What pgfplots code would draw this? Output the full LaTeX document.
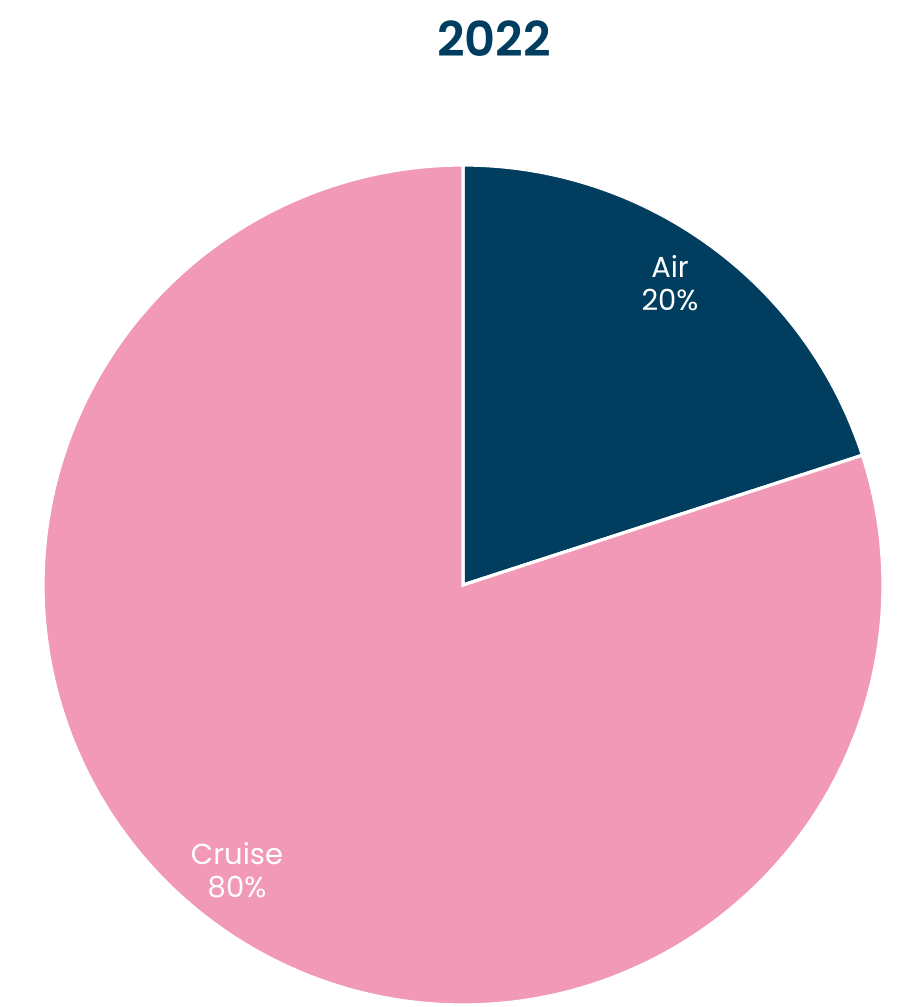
\documentclass[border=0pt]{standalone}
\usepackage{pgfplots}
\pgfplotsset{compat=1.18}
\usepackage{fontspec}
\setmainfont{Poppins}
\newfontfamily\titlefont{Poppins SemiBold}
\definecolor{navy}{HTML}{003D5E}
\definecolor{pinkc}{HTML}{F199B7}
\begin{document}
\begin{tikzpicture}
\begin{axis}[
  width=454pt, height=503.5pt, scale only axis,
  xmin=0, xmax=908, ymin=0, ymax=1007,
  hide axis, clip=false,
]
% data: Air 20, Cruise 80 (percent); start at 90 deg, clockwise
\pgfmathsetmacro{\cx}{463}
\pgfmathsetmacro{\cy}{422}
\pgfmathsetmacro{\r}{420}
\pgfmathsetmacro{\airEnd}{90-360*20/100}
\path (axis cs:0,0) rectangle (axis cs:908,1007);
\addplot[fill=navy, draw=white, line width=1.6pt, domain=\airEnd:90, samples=80]
  ({\cx+\r*cos(x)},{\cy+\r*sin(x)}) -- (axis cs:\cx,\cy) -- cycle;
\addplot[fill=pinkc, draw=white, line width=1.6pt, domain=-270:\airEnd, samples=240]
  ({\cx+\r*cos(x)},{\cy+\r*sin(x)}) -- (axis cs:\cx,\cy) -- cycle;
\node[text=white, font=\fontsize{14.5}{16.5}\selectfont, align=center] at (axis cs:670,{1007-283}) {Air\\20\%};
\node[text=white, font=\fontsize{14.5}{16.5}\selectfont, align=center] at (axis cs:237,{1007-870}) {Cruise\\80\%};
\node[text=navy, font=\fontsize{24}{28}\selectfont\titlefont] at (axis cs:494,{1007-39}) {2022};
\end{axis}
\end{tikzpicture}
\end{document}
